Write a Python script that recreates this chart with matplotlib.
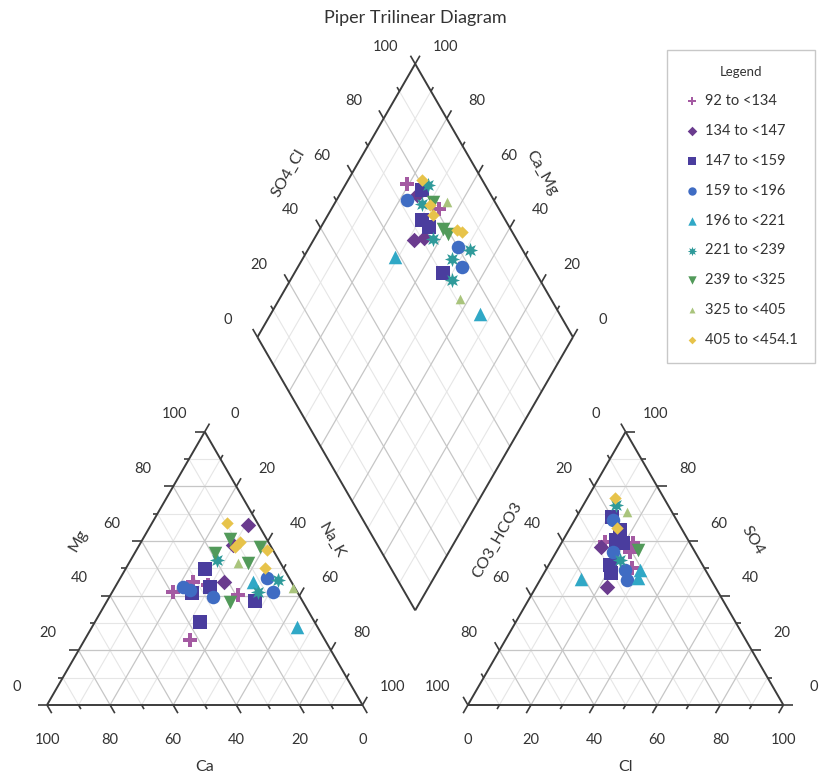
import numpy as np
import matplotlib
matplotlib.use("Agg")
import matplotlib.pyplot as plt

plt.rcParams["font.family"] = ["Lato", "DejaVu Sans"]

# ---- data ----
groups = ["92 to <134", "134 to <147", "147 to <159", "159 to <196", "196 to <221",
          "221 to <239", "239 to <325", "325 to <405", "405 to <454.1"]
colors = ["#a45aa2", "#6a3b8e", "#4a3d9e", "#3f6cc3", "#30a8c6",
          "#2f9a9a", "#529a5a", "#a9c47c", "#e7c34a"]
markers = ["P", "D", "s", "o", "^", (8, 1, 0), "v", "^", "D"]
sizes = [100, 62, 95, 95, 95, 120, 95, 48, 40]

# cation triangle: Mg and Na_K in percent (Ca = 100 - Mg - Na_K)
cat_mg = [[41.5, 45.1, 40.3, 23.8, 44.0],
          [65.9, 58.6, 45.1],
          [49.7, 40.9, 43.3, 38.2, 30.5],
          [43.1, 42.1, 39.4, 46.4, 41.5],
          [45.1, 28.4],
          [53.1, 45.8, 41.5],
          [60.7, 57.9, 55.5, 52.1, 37.8],
          [51.9, 42.7],
          [66.5, 59.8, 57.9, 56.7, 50.0]]
cat_nak = [[19.3, 23.8, 40.5, 33.4, 29.0],
           [30.9, 29.7, 33.4],
           [25.2, 25.4, 30.0, 46.8, 33.3],
           [21.7, 24.3, 33.0, 46.4, 51.0],
           [42.9, 64.9],
           [27.2, 50.4, 46.2],
           [27.7, 38.5, 25.5, 37.8, 39.1],
           [34.7, 56.7],
           [23.7, 31.3, 30.7, 41.3, 44.1]]

# anion triangle: SO4 and Cl in percent (CO3_HCO3 = 100 - SO4 - Cl)
an_so4 = [[59.8, 59.2, 56.1, 50.0],
          [57.9, 43.3],
          [68.9, 64.1, 60.4, 59.2, 51.2, 48.2],
          [67.7, 56.1, 49.4, 45.8],
          [46.4, 49.4, 46.0],
          [73.2, 53.1],
          [56.7],
          [70.8],
          [75.7, 64.7]]
an_cl = [[13.5, 22.8, 23.3, 26.9],
         [13.4, 22.3],
         [11.1, 16.1, 16.9, 19.6, 19.4, 21.4],
         [12.2, 18.0, 25.1, 27.4],
         [30.8, 29.8, 13.0],
         [10.5, 21.6],
         [25.6],
         [14.9],
         [8.8, 14.8]]

# diamond: Ca_Mg and SO4_Cl in percent
dia_camg = [[80.7, 66.1],
            [75.4, 68.2, 65.4],
            [74.7, 69.3, 65.9, 52.7],
            [77.8, 52.8, 48.0],
            [33.5, 71.1],
            [73.6, 72.3, 62.2, 48.5, 52.7, 48.8],
            [69.0, 60.9, 58.4],
            [64.7, 42.8],
            [76.6, 69.3, 66.5, 56.3, 54.5]]
dia_so4cl = [[75.5, 80.9],
             [76.5, 67.2, 70.7],
             [79.0, 73.5, 74.4, 70.6],
             [72.5, 80.2, 77.6],
             [74.8, 58.4],
             [82.0, 76.6, 73.8, 83.3, 76.0, 72.0],
             [80.4, 78.8, 79.5],
             [84.8, 71.3],
             [80.8, 78.9, 78.1, 82.8, 84.0]]

ticks = [0, 20, 40, 60, 80, 100]

# ---- geometry ----
H = np.sqrt(3) / 2
PX = 3.155          # pixels per percent unit
X_AN = 133.4        # left vertex of the anion triangle
BX, BY = 116.7, 30.0  # bottom vertex of the diamond
E_L = np.array([-0.5, H])
E_R = np.array([0.5, H])

AXIS_COL = "#3c3c3c"
MAJ_COL = "#c6c6c6"
MIN_COL = "#e6e6e6"
TXT_COL = "#333333"


def cat_xy(mg, nak):
    mg, nak = np.asarray(mg), np.asarray(nak)
    return nak + mg / 2, mg * H


def an_xy(so4, cl):
    so4, cl = np.asarray(so4), np.asarray(cl)
    return X_AN + cl + so4 / 2, so4 * H


def dia_xy(camg, so4cl):
    camg, so4cl = np.asarray(camg), np.asarray(so4cl)
    return BX + (so4cl - camg) / 2, BY + (camg + so4cl) * H


fig = plt.figure(figsize=(8.23, 7.78), dpi=100)
ax = fig.add_axes([0, 0, 1, 1])
ax.set_xlim(-47 / PX, (823 - 47) / PX)
ax.set_ylim(-(778 - 705) / PX, 705 / PX)
ax.axis("off")


def seg(p, q, **kw):
    ax.plot([p[0], q[0]], [p[1], q[1]], solid_capstyle="butt", **kw)


def grid_style(k):
    if k % 20 == 0:
        return dict(color=MAJ_COL, lw=0.9, zorder=1)
    return dict(color=MIN_COL, lw=0.8, zorder=0.5)


def triangle(x0):
    A = np.array([x0, 0.0])
    B = np.array([x0 + 100, 0.0])
    C = np.array([x0 + 50, 100 * H])
    for k in range(10, 100, 10):
        f = k / 100
        st = grid_style(k)
        seg(A + f * (C - A), B + f * (C - B), **st)
        seg(A + f * (B - A), A + f * (C - A), **st)
        seg(B + f * (A - B), B + f * (C - B), **st)
    for p, q in [(A, B), (B, C), (C, A)]:
        seg(p, q, color=AXIS_COL, lw=1.4, zorder=3)


def diamond():
    Bv = np.array([BX, BY])
    for k in range(10, 100, 10):
        st = grid_style(k)
        seg(Bv + k * E_L, Bv + k * E_L + 100 * E_R, **st)
        seg(Bv + k * E_R, Bv + k * E_R + 100 * E_L, **st)
    L, T, R = Bv + 100 * E_L, Bv + 100 * (E_L + E_R), Bv + 100 * E_R
    for p, q in [(Bv, L), (L, T), (T, R), (R, Bv)]:
        seg(p, q, color=AXIS_COL, lw=1.4, zorder=3)


def axis_ticks(point, direction, normal, off=11.1):
    d = np.asarray(direction)
    n = np.asarray(normal)
    for v in range(0, 101, 10):
        p = point(v)
        ln = 3.0 if v % 20 == 0 else 1.5
        seg(p, p + ln * d, color=AXIS_COL, lw=1.2, zorder=3)
    for v in ticks:
        p = point(v) + off * n
        ax.text(p[0], p[1], str(v), ha="center", va="center",
                fontsize=10.5, color=TXT_COL)


N_L = np.array([-H, 0.5])
N_R = np.array([H, 0.5])
N_D = np.array([0.0, -1.0])

triangle(0)
triangle(X_AN)
diamond()

# cation axes
axis_ticks(lambda v: np.array([100 - v, 0.0]), [0.5, -H], N_D)            # Ca
axis_ticks(lambda v: np.array([v / 2, v * H]), [-1, 0], N_L)              # Mg
axis_ticks(lambda v: np.array([50 + v / 2, (100 - v) * H]), [0.5, H], N_R)  # Na_K
# anion axes
axis_ticks(lambda v: np.array([X_AN + v, 0.0]), [-0.5, -H], N_D)          # Cl
axis_ticks(lambda v: np.array([X_AN + 100 - v / 2, v * H]), [1, 0], N_R)  # SO4
axis_ticks(lambda v: np.array([X_AN + (100 - v) / 2, (100 - v) * H]), [-0.5, H], N_L)  # CO3_HCO3
# diamond axes
Bv = np.array([BX, BY])
axis_ticks(lambda v: Bv + 100 * E_L + v * E_R, E_L, N_L, off=11.0)  # SO4_Cl
axis_ticks(lambda v: Bv + 100 * E_R + v * E_L, E_R, N_R, off=11.0)  # Ca_Mg

# axis titles
def title_at(p, txt, rot):
    ax.text(p[0], p[1], txt, ha="center", va="center", rotation=rot,
            fontsize=11.5, color=TXT_COL)

title_at(np.array([50, 0.0]) + 19.7 * N_D, "Ca", 0)
title_at(np.array([X_AN + 50, 0.0]) + 19.7 * N_D, "Cl", 0)
title_at(np.array([25, 50 * H]) + 17.5 * N_L, "Mg", 60)
title_at(np.array([75, 50 * H]) + 17.5 * N_R, "Na_K", -60)
title_at(np.array([X_AN + 25, 50 * H]) + 18.0 * N_L, "CO3_HCO3", 60)
title_at(np.array([X_AN + 75, 50 * H]) + 17.5 * N_R, "SO4", -60)
title_at(Bv + 100 * E_L + 50 * E_R + 17.5 * N_L, "SO4_Cl", 60)
title_at(Bv + 100 * E_R + 50 * E_L + 17.5 * N_R, "Ca_Mg", -60)

# points
for i, name in enumerate(groups):
    kw = dict(s=sizes[i], marker=markers[i], color=colors[i], linewidths=0, zorder=5)
    x, y = cat_xy(cat_mg[i], cat_nak[i])
    ax.scatter(x, y, label=name, **kw)
    x, y = an_xy(an_so4[i], an_cl[i])
    ax.scatter(x, y, **kw)
    x, y = dia_xy(dia_camg[i], dia_so4cl[i])
    ax.scatter(x, y, **kw)

fig.text(415 / 823, 1 - 18 / 778, "Piper Trilinear Diagram", ha="center", va="center",
         fontsize=13, color=TXT_COL)

leg = ax.legend(loc="upper left", bbox_to_anchor=(667 / 823, 1 - 50 / 778, 148 / 823, 0.0),
                bbox_transform=fig.transFigure, mode="expand", borderaxespad=0,
                title="Legend", title_fontsize=9.5, fontsize=10.5, markerscale=0.62,
                labelspacing=1.09, handletextpad=0.3, handlelength=1.2,
                borderpad=1.1, fancybox=False, edgecolor="#c8c8c8", framealpha=1)
leg.get_frame().set_linewidth(1.0)
for t in leg.get_texts():
    t.set_color(TXT_COL)
leg.get_title().set_color(TXT_COL)

fig.savefig("out.png", dpi=100)
